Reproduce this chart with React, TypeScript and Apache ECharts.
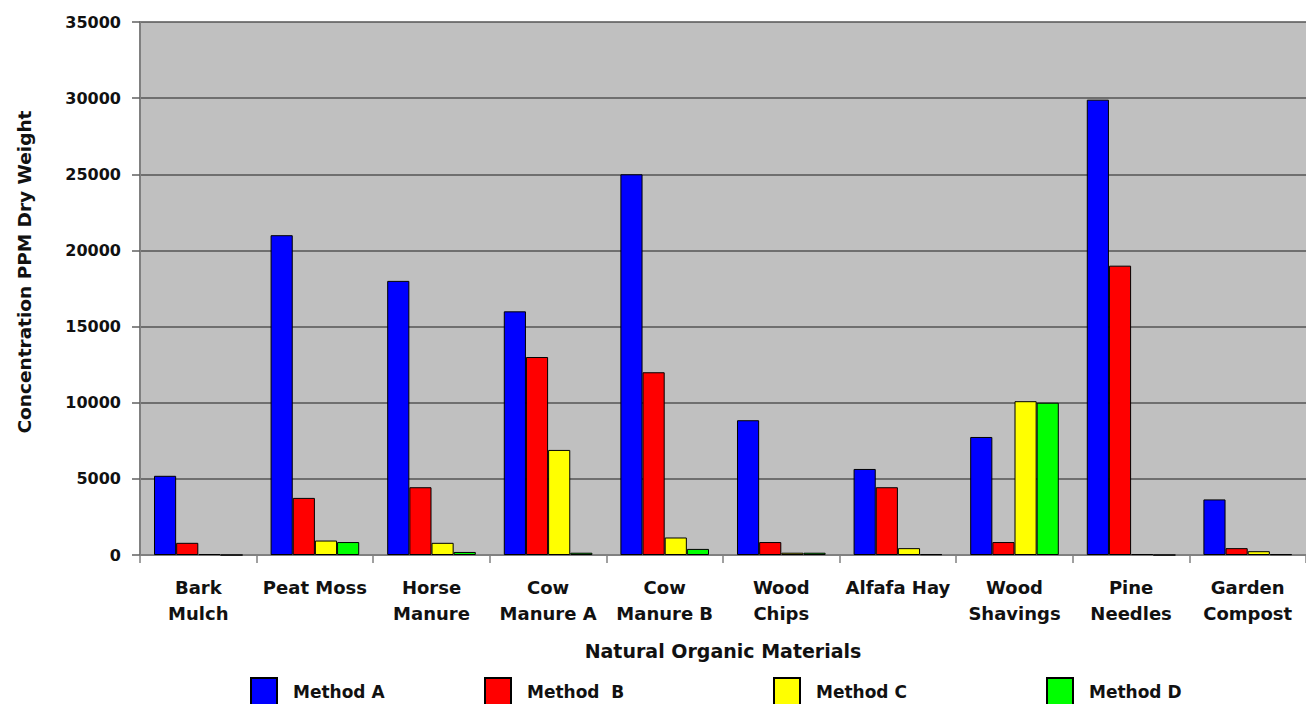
import React, { useEffect, useRef } from "react";
import * as echarts from "echarts";

const categories = [
  "Bark\nMulch",
  "Peat Moss",
  "Horse\nManure",
  "Cow\nManure A",
  "Cow\nManure B",
  "Wood\nChips",
  "Alfafa Hay",
  "Wood\nShavings",
  "Pine\nNeedles",
  "Garden\nCompost",
];
const seriesNames = ["Method A", "Method  B", "Method C", "Method D"];
const methodA = [5200, 21000, 18000, 16000, 25000, 8850, 5650, 7750, 29900, 3650];
const methodB = [800, 3750, 4450, 13000, 12000, 850, 4450, 850, 19000, 450];
const methodC = [60, 950, 800, 6900, 1150, 150, 450, 10100, 60, 250];
const methodD = [0, 850, 200, 150, 400, 150, 50, 10000, 0, 50];
const yTicks = [0, 5000, 10000, 15000, 20000, 25000, 30000, 35000];
const yAxisTitle = "Concentration PPM Dry Weight";
const xAxisTitle = "Natural Organic Materials";
const colors = ["#0000FF", "#FF0000", "#FFFF00", "#00FF00"];
const legendLefts = [250, 484, 773, 1046];

export default function App() {
  const ref = useRef<HTMLDivElement>(null);
  useEffect(() => {
    if (!ref.current) return;
    const chart = echarts.init(ref.current, undefined, { renderer: "svg" });
    const data = [methodA, methodB, methodC, methodD];
    const font = "DejaVu Sans";
    chart.setOption({
      animation: false,
      backgroundColor: "#ffffff",
      textStyle: { fontFamily: font },
      grid: {
        left: 140,
        top: 22,
        right: -4,
        bottom: 149,
        show: true,
        backgroundColor: "#C0C0C0",
        borderWidth: 0,
      },
      graphic: [
        {
          type: "text",
          x: 24,
          y: 272,
          rotation: Math.PI / 2,
          style: {
            text: yAxisTitle,
            fontFamily: font,
            fontWeight: "bold",
            fontSize: 18.5,
            fill: "#111",
            align: "center",
            verticalAlign: "middle",
          },
        },
      ],
      legend: seriesNames.map((n, i) => ({
        data: [{ name: n, icon: "rect" }],
        left: legendLefts[i],
        top: 677,
        itemWidth: 26,
        itemHeight: 27,
        itemGap: 0,
        padding: 0,
        textStyle: {
          fontFamily: font,
          fontWeight: "bold",
          fontSize: 17,
          color: "#111",
          padding: [0, 0, 0, 11],
        },
      })),
      xAxis: {
        type: "category",
        data: categories,
        name: xAxisTitle,
        nameLocation: "middle",
        nameGap: 86,
        nameTextStyle: { fontFamily: font, fontWeight: "bold", fontSize: 19, color: "#111" },
        axisLine: { show: true, lineStyle: { color: "#808080", width: 2 } },
        axisTick: { show: true, interval: 0, length: 8, lineStyle: { color: "#808080", width: 1.5 } },
        axisLabel: {
          interval: 0,
          fontFamily: font,
          fontWeight: "bold",
          fontSize: 18,
          color: "#111",
          margin: 19,
          lineHeight: 26,
        },
      },
      yAxis: {
        type: "value",
        min: 0,
        max: 35000,
        interval: 5000,
        axisLine: { show: true, lineStyle: { color: "#808080", width: 2 } },
        axisTick: { show: true, length: 8, lineStyle: { color: "#606060", width: 1.5 } },
        axisLabel: {
          fontFamily: font,
          fontWeight: "bold",
          fontSize: 16,
          color: "#111",
          margin: 19,
          formatter: (v: number) => (yTicks.includes(v) ? String(v) : ""),
        },
        splitLine: { show: true, lineStyle: { color: "#555555", width: 1.5 } },
      },
      series: seriesNames.map((n, i) => ({
        name: n,
        type: "bar",
        data: data[i],
        barGap: "0%",
        barCategoryGap: "24%",
        itemStyle: { color: colors[i], borderColor: "#000", borderWidth: 1 },
      })),
    });
    return () => chart.dispose();
  }, []);
  return (
    <div
      ref={ref}
      style={{ position: "fixed", left: 0, top: 0, width: 1306, height: 704 }}
    />
  );
}
